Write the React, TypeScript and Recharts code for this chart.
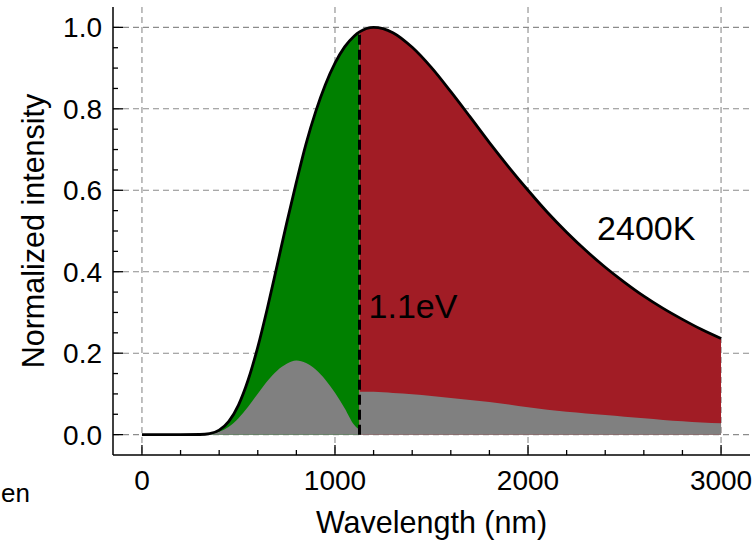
import {
  ComposedChart,
  Area,
  Line,
  XAxis,
  YAxis,
  CartesianGrid,
  ReferenceLine,
  ReferenceDot,
} from "recharts";

// wavelength samples (nm) and normalized blackbody intensity at 2400 K
const wavelength = [
  0, 100, 200, 300, 350, 400, 450, 500, 550, 600, 650, 700, 750, 800, 850, 900,
  950, 1000, 1050, 1100, 1127, 1200, 1300, 1400, 1500, 1600, 1700, 1800, 1900,
  2000, 2100, 2200, 2300, 2400, 2500, 2600, 2700, 2800, 2900, 3000,
];
const intensity = [
  0, 0, 0, 0.0003, 0.0025, 0.011, 0.0325, 0.0726, 0.134, 0.215, 0.311, 0.415,
  0.52, 0.62, 0.714, 0.793, 0.859, 0.912, 0.952, 0.979, 0.989, 1.0, 0.987,
  0.951, 0.901, 0.842, 0.78, 0.717, 0.657, 0.6, 0.546, 0.497, 0.452, 0.411,
  0.374, 0.34, 0.31, 0.283, 0.258, 0.236,
];
// grey part, 0..1127 nm
const grayBelowGap = [
  0, 0, 0, 0.0002, 0.0017, 0.0072, 0.0195, 0.0404, 0.0686, 0.1005, 0.1316,
  0.157, 0.174, 0.182, 0.176, 0.16, 0.135, 0.103, 0.065, 0.0235, 0.012,
];
// grey part, 1127..3000 nm
const grayAboveGap = [
  0.105, 0.105, 0.102, 0.099, 0.095, 0.09, 0.085, 0.08, 0.074, 0.067, 0.061,
  0.056, 0.052, 0.048, 0.044, 0.04, 0.036, 0.033, 0.03, 0.028,
];
const BANDGAP_NM = 1127;

const xTicks = [
  0, 200, 400, 600, 800, 1000, 1200, 1400, 1600, 1800, 2000, 2200, 2400, 2600,
  2800, 3000,
];
const yTicks = [
  0, 0.05, 0.1, 0.15, 0.2, 0.25, 0.3, 0.35, 0.4, 0.45, 0.5, 0.55, 0.6, 0.65,
  0.7, 0.75, 0.8, 0.85, 0.9, 0.95, 1.0,
];

const gapIndex = wavelength.indexOf(BANDGAP_NM);
const data = wavelength.map((w, i) => ({
  w,
  total: intensity[i],
  green: w <= BANDGAP_NM ? intensity[i] : null,
  red: w >= BANDGAP_NM ? intensity[i] : null,
  grayLo: w <= BANDGAP_NM ? grayBelowGap[i] : null,
  grayHi: w >= BANDGAP_NM ? grayAboveGap[i - gapIndex] : null,
}));

const FONT = "'Liberation Sans', Arial, sans-serif";
const MAJOR = 10;
const MINOR = 5;

const isMajorX = (v: number) => v % 1000 === 0;
const isMajorY = (v: number) => Math.round(v * 100) % 20 === 0;

function BottomTick({ x, y, payload }: any) {
  const major = isMajorX(payload.value);
  return (
    <g>
      <line x1={x} x2={x} y1={y} y2={y - (major ? MAJOR : MINOR)} stroke="#000" strokeWidth={1.3} />
      {major && (
        <text x={x} y={y + 35} textAnchor="middle" fontSize={28} fontFamily={FONT} fill="#000">
          {payload.value}
        </text>
      )}
    </g>
  );
}

function TopTick({ x, y, payload }: any) {
  const major = isMajorX(payload.value);
  return <line x1={x} x2={x} y1={y} y2={y + (major ? MAJOR : MINOR)} stroke="#000" strokeWidth={1.3} />;
}

function LeftTick({ x, y, payload }: any) {
  const major = isMajorY(payload.value);
  return (
    <g>
      <line x1={x} x2={x + (major ? MAJOR : MINOR)} y1={y} y2={y} stroke="#000" strokeWidth={1.3} />
      {major && (
        <text x={x - 11} y={y + 10} textAnchor="end" fontSize={28} fontFamily={FONT} fill="#000">
          {payload.value.toFixed(1)}
        </text>
      )}
    </g>
  );
}

function RightTick({ x, y, payload }: any) {
  const major = isMajorY(payload.value);
  return <line x1={x} x2={x - (major ? MAJOR : MINOR)} y1={y} y2={y} stroke="#000" strokeWidth={1.3} />;
}

const annotation = (text: string) => (props: any) => {
  const { viewBox } = props;
  return (
    <text x={viewBox.x} y={viewBox.y} fontSize={34} fontFamily={FONT} fill="#000">
      {text}
    </text>
  );
};

const axisLine = { stroke: "#000", strokeWidth: 1.5 };

export default function App() {
  return (
    <div style={{ position: "absolute", left: 0, top: 0, width: 755, height: 541 }}>
      <ComposedChart
        width={755}
        height={541}
        data={data}
        margin={{ top: 7, right: 5, bottom: 36, left: 0 }}
      >
        <CartesianGrid
          horizontalValues={[0, 0.2, 0.4, 0.6, 0.8, 1.0]}
          verticalValues={[0, 1000, 2000, 3000]}
          stroke="#8c8c8c"
          strokeDasharray="6 4"
          strokeWidth={1.1}
        />
        <XAxis
          dataKey="w"
          type="number"
          domain={[-150, 3150]}
          ticks={xTicks}
          interval={0}
          height={50}
          tickSize={0}
          tickMargin={0}
          tickLine={false}
          axisLine={axisLine}
          tick={<BottomTick />}
          allowDataOverflow
          label={{
            content: (p: any) => (
              <text
                x={p.viewBox.x + p.viewBox.width / 2}
                y={p.viewBox.y + 78}
                textAnchor="middle"
                fontSize={30.5}
                fontFamily={FONT}
                fill="#000"
              >
                Wavelength (nm)
              </text>
            ),
          }}
        />
        <XAxis
          xAxisId="top"
          orientation="top"
          dataKey="w"
          type="number"
          domain={[-150, 3150]}
          ticks={xTicks}
          interval={0}
          height={0}
          tickSize={0}
          tickMargin={0}
          tickLine={false}
          axisLine={axisLine}
          tick={<TopTick />}
          allowDataOverflow
        />
        <YAxis
          type="number"
          domain={[-0.05, 1.05]}
          ticks={yTicks}
          interval={0}
          width={113}
          tickSize={0}
          tickMargin={0}
          tickLine={false}
          axisLine={axisLine}
          tick={<LeftTick />}
          allowDataOverflow
          label={{
            content: (p: any) => {
              const cy = p.viewBox.y + p.viewBox.height / 2;
              return (
                <text
                  x={44}
                  y={cy}
                  transform={`rotate(-90 44 ${cy})`}
                  textAnchor="middle"
                  fontSize={30.5}
                  fontFamily={FONT}
                  fill="#000"
                >
                  Normalized intensity
                </text>
              );
            },
          }}
        />
        <YAxis
          yAxisId="right"
          orientation="right"
          type="number"
          domain={[-0.05, 1.05]}
          ticks={yTicks}
          interval={0}
          width={0}
          tickSize={0}
          tickMargin={0}
          tickLine={false}
          axisLine={axisLine}
          tick={<RightTick />}
          allowDataOverflow
        />

        <Area
          dataKey="green"
          type="monotone"
          fill="#008000"
          fillOpacity={1}
          stroke="none"
          baseValue={0}
          isAnimationActive={false}
        />
        <Area
          dataKey="red"
          type="monotone"
          fill="#a11c25"
          fillOpacity={1}
          stroke="none"
          baseValue={0}
          isAnimationActive={false}
        />
        <Area
          dataKey="grayLo"
          type="monotone"
          fill="#808080"
          fillOpacity={1}
          stroke="none"
          baseValue={0}
          isAnimationActive={false}
        />
        <Area
          dataKey="grayHi"
          type="monotone"
          fill="#808080"
          fillOpacity={1}
          stroke="none"
          baseValue={0}
          isAnimationActive={false}
        />
        <Line
          dataKey="total"
          type="monotone"
          stroke="#000"
          strokeWidth={2.8}
          dot={false}
          activeDot={false}
          isAnimationActive={false}
        />
        <ReferenceLine
          segment={[
            { x: BANDGAP_NM, y: 0 },
            { x: BANDGAP_NM, y: intensity[gapIndex] },
          ]}
          stroke="#000"
          strokeWidth={3}
          strokeDasharray="10 5"
        />
        <ReferenceDot x={1174} y={0.287} r={0} fill="none" stroke="none" label={{ content: annotation("1.1eV") }} />
        <ReferenceDot x={2358} y={0.477} r={0} fill="none" stroke="none" label={{ content: annotation("2400K") }} />
      </ComposedChart>
      <svg
        width={755}
        height={541}
        style={{ position: "absolute", left: 0, top: 0, pointerEvents: "none" }}
      >
        <text x={1} y={502} fontSize={26} fontFamily={FONT} fill="#000">
          en
        </text>
      </svg>
    </div>
  );
}
